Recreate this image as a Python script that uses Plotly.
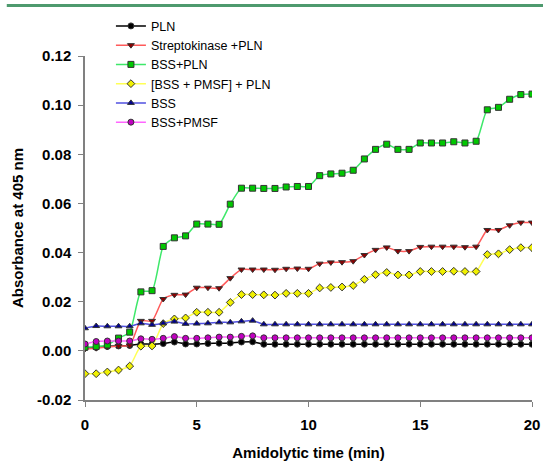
import plotly.graph_objects as go

time_min = [i * 0.5 for i in range(41)]

pln = [0.0012, 0.0014, 0.0018, 0.0020, 0.0022, 0.0028, 0.0027, 0.0030, 0.0036, 0.0028,
       0.0028, 0.0030, 0.0031, 0.0032, 0.0036, 0.0037] + [0.0027] * 25

strepto_pln = [0.0008, 0.0011, 0.0016, 0.0020, 0.0022, 0.0122, 0.0122, 0.0211, 0.0228, 0.0229,
               0.0257, 0.0257, 0.0255, 0.0296, 0.0331, 0.0331, 0.0331, 0.0330, 0.0334, 0.0335,
               0.0334, 0.0355, 0.0360, 0.0361, 0.0365, 0.0390, 0.0411, 0.0421, 0.0406, 0.0406,
               0.0423, 0.0424, 0.0424, 0.0424, 0.0422, 0.0424, 0.0492, 0.0492, 0.0511, 0.0522,
               0.0522]

bss_pln = [0.0015, 0.0018, 0.0024, 0.0052, 0.0076, 0.0240, 0.0245, 0.0425, 0.0460, 0.0468,
           0.0516, 0.0516, 0.0515, 0.0597, 0.0662, 0.0662, 0.0661, 0.0661, 0.0667, 0.0669,
           0.0669, 0.0713, 0.0720, 0.0723, 0.0735, 0.0781, 0.0820, 0.0841, 0.0820, 0.0820,
           0.0846, 0.0846, 0.0846, 0.0851, 0.0846, 0.0853, 0.0981, 0.0991, 0.1024, 0.1043,
           0.1045]

bss_pmsf_pln = [-0.0093, -0.0093, -0.0086, -0.0078, -0.0062, 0.0019, 0.0020, 0.0111, 0.0130, 0.0134,
                0.0157, 0.0157, 0.0157, 0.0197, 0.0229, 0.0229, 0.0228, 0.0227, 0.0234, 0.0234,
                0.0234, 0.0256, 0.0258, 0.0260, 0.0266, 0.0291, 0.0310, 0.0319, 0.0309, 0.0309,
                0.0323, 0.0323, 0.0323, 0.0324, 0.0323, 0.0323, 0.0392, 0.0395, 0.0412, 0.0420,
                0.0420]

bss = [0.0092, 0.0101, 0.0100, 0.0100, 0.0100, 0.0112, 0.0106, 0.0112, 0.0119, 0.0110,
       0.0111, 0.0112, 0.0116, 0.0116, 0.0120, 0.0123] + [0.0108] * 25

bss_pmsf = [0.0028, 0.0038, 0.0040, 0.0040, 0.0040, 0.0049, 0.0047, 0.0051, 0.0058, 0.0051,
            0.0051, 0.0053, 0.0056, 0.0056, 0.0059, 0.0061] + [0.0053] * 25

series = [
    ("PLN", pln, "#000000", "#000000", "circle"),
    ("Streptokinase +PLN", strepto_pln, "#ff5a5a", "#8b0000", "triangle-down"),
    ("BSS+PLN", bss_pln, "#3ee86a", "#00c800", "square"),
    ("[BSS + PMSF] + PLN", bss_pmsf_pln, "#ffff55", "#f0f000", "diamond"),
    ("BSS", bss, "#5050e0", "#000090", "triangle-up"),
    ("BSS+PMSF", bss_pmsf, "#ff66ff", "#c000c0", "circle"),
]

font_family = "Arial, 'Liberation Sans', sans-serif"

fig = go.Figure()
for name, vals, lcol, mcol, sym in series:
    fig.add_trace(go.Scatter(
        x=time_min, y=vals, name=name, mode="lines+markers",
        line=dict(color=lcol, width=1.5, shape="spline", smoothing=0.6),
        marker=dict(symbol=sym, size=6, color=mcol, line=dict(color="#333333", width=1)),
    ))

fig.update_layout(
    width=543, height=461,
    margin=dict(l=85, r=11, t=53, b=61),
    paper_bgcolor="white", plot_bgcolor="white",
    font=dict(family=font_family, color="#000000"),
    showlegend=True,
    legend=dict(
        x=0.058, y=1.13, xanchor="left", yanchor="top",
        font=dict(size=12.5, family=font_family, color="#000000"),
        bgcolor="rgba(0,0,0,0)", tracegroupgap=0, itemwidth=30,
    ),
    shapes=[dict(type="line", xref="paper", yref="paper",
                 x0=-0.175, x1=1.03, y0=1.147, y1=1.147,
                 line=dict(color="#4e9a6e", width=3))],
)

fig.update_xaxes(
    range=[0, 20], tickvals=[0, 5, 10, 15, 20],
    showgrid=False, zeroline=False, automargin=False,
    showline=True, linecolor="#808080", linewidth=1.5,
    ticks="outside", ticklen=5, tickcolor="#808080", ticklabelstandoff=5,
    tickfont=dict(size=15, family=font_family, weight="bold"),
    title=dict(text="<b>Amidolytic time (min)</b>", font=dict(size=15, family=font_family), standoff=20),
)
fig.update_yaxes(
    range=[-0.02, 0.12], tickvals=[-0.02, 0, 0.02, 0.04, 0.06, 0.08, 0.10, 0.12],
    ticktext=["-0.02", "0.00", "0.02", "0.04", "0.06", "0.08", "0.10", "0.12"],
    showgrid=False, zeroline=False, automargin=False,
    showline=True, linecolor="#808080", linewidth=1.5,
    ticks="outside", ticklen=5, tickcolor="#808080", ticklabelstandoff=4,
    tickfont=dict(size=15, family=font_family, weight="bold"),
    title=dict(text="<b>Absorbance at 405 nm</b>", font=dict(size=15, family=font_family), standoff=10),
)

fig.write_html("out.html")
